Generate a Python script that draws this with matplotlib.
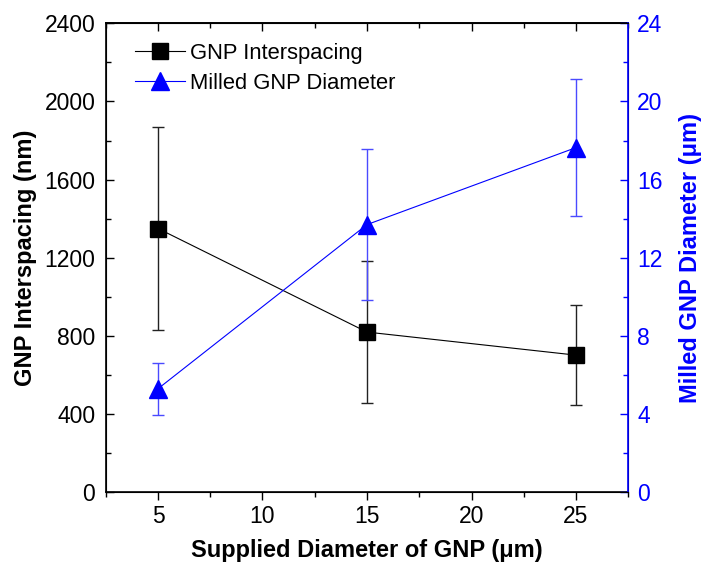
import matplotlib
matplotlib.use("Agg")
import matplotlib.pyplot as plt
from matplotlib.ticker import MultipleLocator
from matplotlib.lines import Line2D

plt.rcParams['font.family'] = ['Liberation Sans', 'DejaVu Sans']

x = [5, 15, 25]
spacing = [1350, 820, 702]
spacing_err = [518, 362, 256]
diameter = [5.3, 13.7, 17.64]
diameter_err = [1.32, 3.88, 3.5]

fig = plt.figure(figsize=(7.02, 5.67), dpi=100)
ax = fig.add_axes([0.1506, 0.1317, 0.7444, 0.8272])
ax2 = ax.twinx()

ax.errorbar(x, spacing, yerr=spacing_err, color='black', marker='s', markersize=11,
            lw=0.8, elinewidth=1.0, ecolor='#222222', capsize=4.5, capthick=1.0, zorder=3)
ax2.errorbar(x, diameter, yerr=diameter_err, color='blue', marker='^', markersize=13,
             lw=0.8, elinewidth=1.0, ecolor='#4a4aff', capsize=4.5, capthick=1.0, zorder=3)

ax.set_xlim(2.5, 27.5)
ax.set_ylim(0, 2400)
ax2.set_ylim(0, 24)
ax.xaxis.set_major_locator(MultipleLocator(5))
ax.xaxis.set_minor_locator(MultipleLocator(2.5))
ax.yaxis.set_major_locator(MultipleLocator(400))
ax.yaxis.set_minor_locator(MultipleLocator(200))
ax2.yaxis.set_major_locator(MultipleLocator(4))
ax2.yaxis.set_minor_locator(MultipleLocator(2))

ax.tick_params(axis='x', which='both', direction='out', top=False, labelsize=16.5, pad=3)
ax.tick_params(axis='x', which='major', length=6, width=1)
ax.tick_params(axis='x', which='minor', length=3.5, width=1)
ax.tick_params(axis='y', which='both', direction='in', labelsize=16.5, pad=7.5)
ax.tick_params(axis='y', which='major', length=6, width=1)
ax.tick_params(axis='y', which='minor', length=3.5, width=1)

sec = ax.secondary_xaxis('top')
sec.xaxis.set_major_locator(MultipleLocator(5))
sec.xaxis.set_minor_locator(MultipleLocator(2.5))
sec.tick_params(axis='x', which='both', direction='in', labeltop=False)
sec.tick_params(axis='x', which='major', length=6, width=1)
sec.tick_params(axis='x', which='minor', length=3.5, width=1)
sec.spines['top'].set_linewidth(1.2)

ax2.tick_params(axis='y', which='both', direction='in', colors='blue', labelsize=16.5, pad=6.5)
ax2.tick_params(axis='y', which='major', length=6, width=1)
ax2.tick_params(axis='y', which='minor', length=3.5, width=1)
ax2.spines['right'].set_color('blue')
for s in ['left', 'bottom', 'top']:
    ax.spines[s].set_linewidth(1.2)
ax2.spines['right'].set_linewidth(1.2)

ax.set_xlabel('Supplied Diameter of GNP (\u03bcm)', fontsize=17, fontweight='bold', labelpad=8)
ax.set_ylabel('GNP Interspacing (nm)', fontsize=17, fontweight='bold', labelpad=5)
ax2.set_ylabel('Milled GNP Diameter (\u03bcm)', fontsize=17, fontweight='bold', color='blue', labelpad=12)

handles = [Line2D([], [], color='black', marker='s', markersize=11, lw=0.8),
           Line2D([], [], color='blue', marker='^', markersize=13, lw=0.8)]
labels = ['GNP Interspacing', 'Milled GNP Diameter']
ax2.legend(handles, labels, loc='upper left', bbox_to_anchor=(0.018, 1.0), frameon=False,
           fontsize=15.8, handlelength=2.3, handletextpad=0.2, labelspacing=0.4)

fig.savefig('out.png', dpi=100)
